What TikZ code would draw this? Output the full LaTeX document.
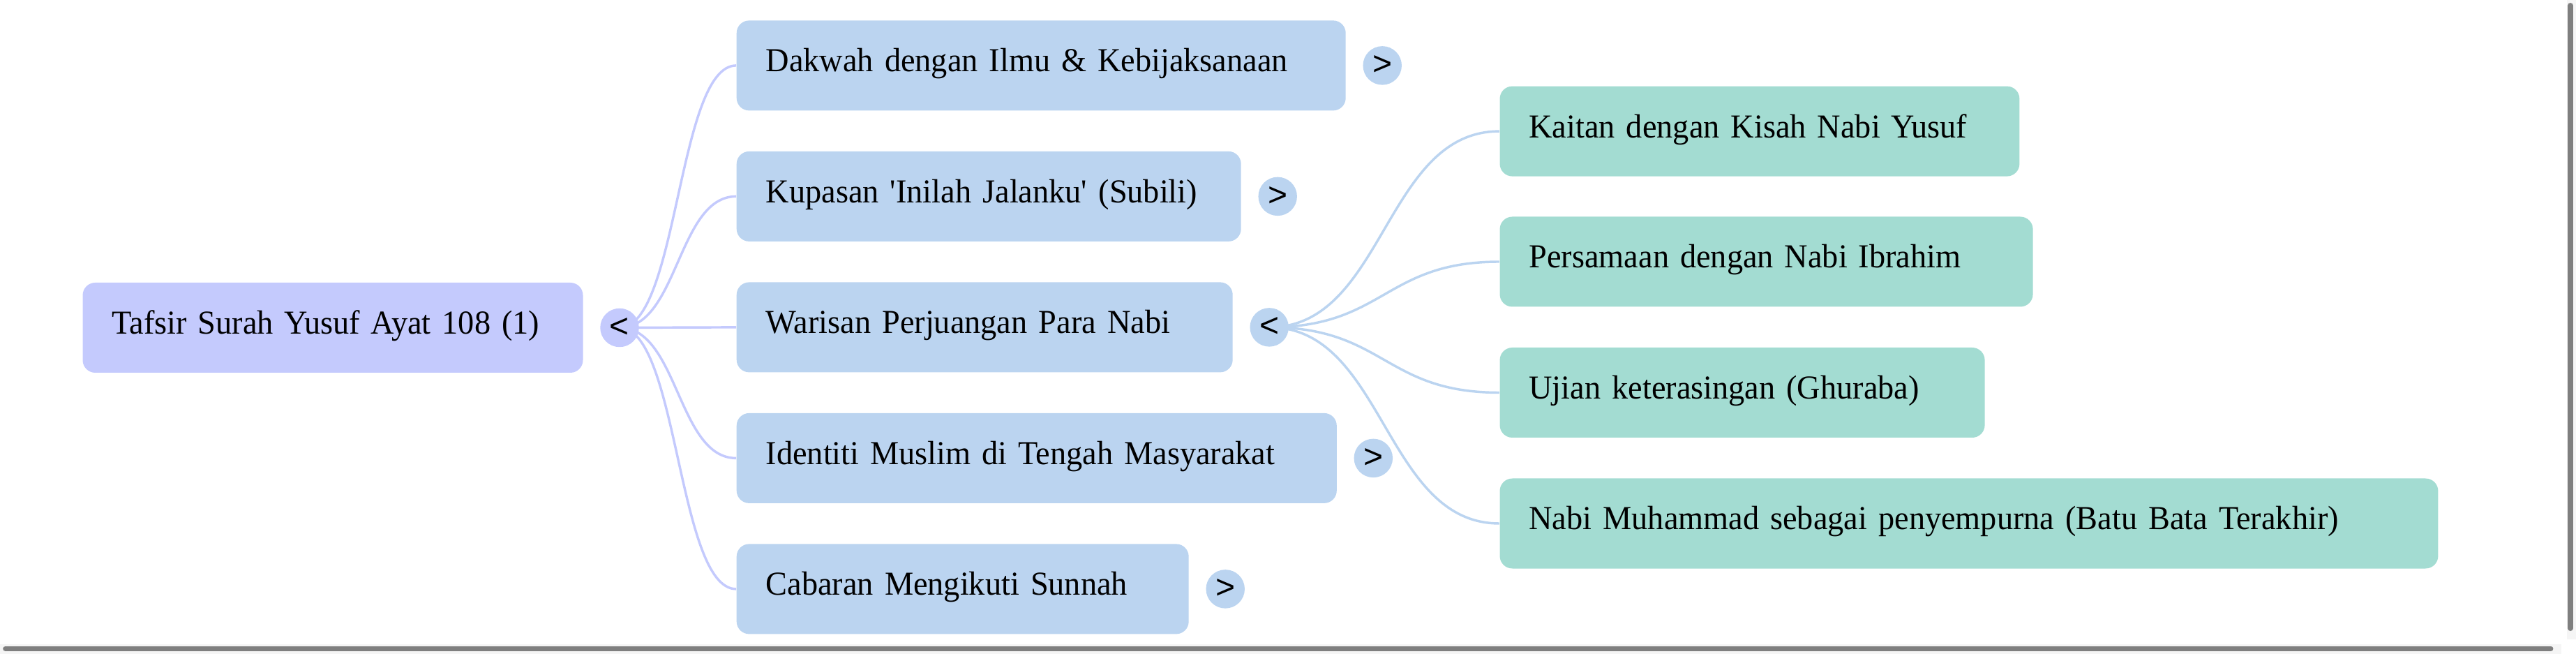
\documentclass[tikz,border=0pt]{standalone}
\usepackage{fontspec}
\setmainfont{Liberation Serif}[FakeStretch=0.965,WordSpace=0.8]
\newfontfamily\togglefont{Liberation Sans}
\usetikzlibrary{backgrounds}
\definecolor{rootblue}{HTML}{C4CAFD}
\definecolor{subblue}{HTML}{BBD4F0}
\definecolor{leafgreen}{HTML}{A3DCD2}
\definecolor{bargrey}{HTML}{7F7F7F}
\begin{document}
\begin{tikzpicture}[x=1pt,y=-1pt,
  topic/.style={anchor=west,rounded corners=6pt,inner xsep=14pt,inner ysep=0pt,
    minimum height=43pt,text height=10pt,text depth=4pt,align=left,
    font=\fontsize{16}{19}\selectfont},
  rootbox/.style={topic,fill=rootblue},
  subbox/.style={topic,fill=subblue},
  leafbox/.style={topic,fill=leafgreen},
  toggle/.style={circle,inner sep=0pt,minimum size=18.5pt,
    font=\togglefont\fontsize{16}{16}\selectfont},
  link/.style={line width=1.15pt,out=0,in=180}]
\useasboundingbox (0,0) rectangle (1230.67,312.33);
\fill[black!4] (0,307.7) rectangle (1223.7,312.33);
\fill[black!4] (1226.3,0) rectangle (1230.67,305.3);
\draw[bargrey,line width=2.7pt,line cap=round] (1228,2.7) -- (1228,300);
\draw[bargrey,line width=2.4pt,line cap=round] (2.6,309.8) -- (1218.6,309.8);
\node[rootbox,text width=211pt] (root) at (39.3,156.5) {Tafsir Surah Yusuf Ayat 108 (1)};
\node[toggle,fill=rootblue] (t0) at ([xshift=17.3pt]root.east) {<};
\node[subbox,text width=263pt] (s1) at (351.7,31.3) {Dakwah dengan Ilmu \& Kebijaksanaan};
\node[subbox,text width=213pt] (s2) at (351.7,93.8) {Kupasan \textquotesingle Inilah Jalanku\textquotesingle{} (Subili)};
\node[subbox,text width=209pt] (s3) at (351.7,156.3) {Warisan Perjuangan Para Nabi};
\node[subbox,text width=258.7pt] (s4) at (351.7,218.8) {Identiti Muslim di Tengah Masyarakat};
\node[subbox,text width=188pt] (s5) at (351.7,281.3) {Cabaran Mengikuti Sunnah};
\node[toggle,fill=subblue] (t1) at ([xshift=17.3pt]s1.east) {>};
\node[toggle,fill=subblue] (t2) at ([xshift=17.3pt]s2.east) {>};
\node[toggle,fill=subblue] (t3) at ([xshift=17.3pt]s3.east) {<};
\node[toggle,fill=subblue] (t4) at ([xshift=17.3pt]s4.east) {>};
\node[toggle,fill=subblue] (t5) at ([xshift=17.3pt]s5.east) {>};
\node[leafbox,text width=220.3pt] (l1) at (716.3,62.7) {Kaitan dengan Kisah Nabi Yusuf};
\node[leafbox,text width=226.7pt] (l2) at (716.3,125) {Persamaan dengan Nabi Ibrahim};
\node[leafbox,text width=203.7pt] (l3) at (716.3,187.5) {Ujian keterasingan (Ghuraba)};
\node[leafbox,text width=420.3pt] (l4) at (716.3,250) {Nabi Muhammad sebagai penyempurna (Batu Bata Terakhir)};
\begin{scope}[on background layer]
\draw[link,rootblue,distance=28pt] (t0.center) to (s1.west);
\draw[link,rootblue,distance=28pt] (t0.center) to (s2.west);
\draw[link,rootblue,distance=28pt] (t0.center) to (s3.west);
\draw[link,rootblue,distance=28pt] (t0.center) to (s4.west);
\draw[link,rootblue,distance=28pt] (t0.center) to (s5.west);
\draw[link,subblue,distance=55pt] (t3.center) to (l1.west);
\draw[link,subblue,distance=55pt] (t3.center) to (l2.west);
\draw[link,subblue,distance=55pt] (t3.center) to (l3.west);
\draw[link,subblue,distance=55pt] (t3.center) to (l4.west);
\end{scope}
\end{tikzpicture}
\end{document}
